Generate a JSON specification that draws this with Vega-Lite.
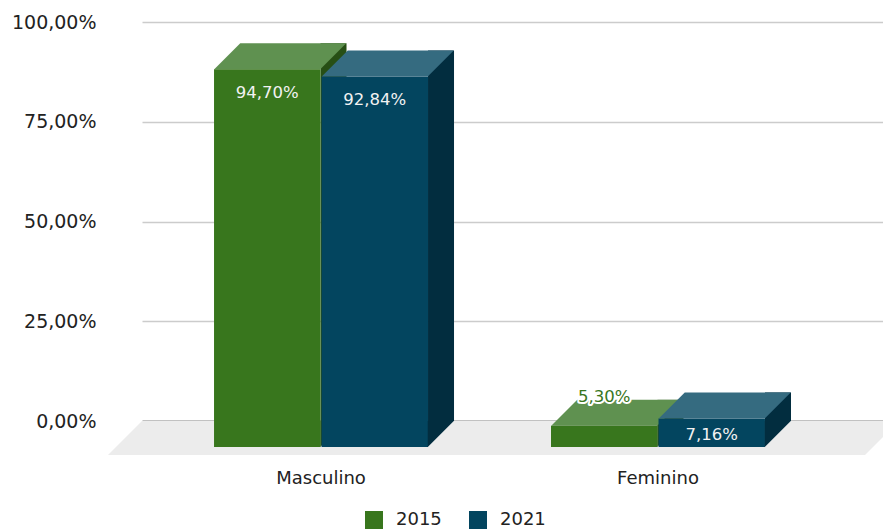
{
  "$schema": "https://vega.github.io/schema/vega-lite/v6.json",
  "width": 741,
  "height": 399,
  "autosize": "none",
  "padding": {"left": 142, "top": 22, "right": 0, "bottom": 108},
  "config": {
    "view": {"stroke": null},
    "font": "DejaVu Sans",
    "locale": {"number": {"decimal": ",", "thousands": ".", "grouping": [3], "currency": ["", ""]}}
  },
  "data": {"values": [
    {"sexo": "Masculino", "ano": "2015", "valor": 0.947},
    {"sexo": "Masculino", "ano": "2021", "valor": 0.9284},
    {"sexo": "Feminino", "ano": "2015", "valor": 0.053},
    {"sexo": "Feminino", "ano": "2021", "valor": 0.0716}
  ]},
  "encoding": {
    "x": {"field": "sexo", "type": "nominal", "sort": ["Masculino", "Feminino"],
      "scale": {"paddingInner": 0.365, "paddingOuter": 0.282, "align": 0.379},
      "axis": {"title": null, "domain": true, "domainColor": "#333333", "domainWidth": 1.5, "ticks": false, "grid": false,
        "labelPadding": 48, "labelFontSize": 18, "labelColor": "#222222", "labelAngle": 0, "labelBaseline": "top", "labelFont": "DejaVu Sans"}},
    "y": {"field": "valor", "type": "quantitative", "scale": {"domain": [0, 1]},
      "axis": {"title": null, "format": ".2%", "values": [0, 0.25, 0.5, 0.75, 1], "domain": false, "ticks": false,
        "labelPadding": 46, "labelFontSize": 19, "labelColor": "#222222", "labelFont": "DejaVu Sans",
        "gridColor": "#cccccc", "gridWidth": 1.3}}
  },
  "layer": [
    {"transform": [{"filter": "datum.sexo === 'Masculino' && datum.ano === '2015'"}],
      "mark": {"type": "point", "shape": "M-179,0L578,0L544,34L-213,34Z", "size": 4, "filled": true, "opacity": 1, "strokeWidth": 0, "color": "#ececec"},
      "encoding": {"y": {"datum": 0}}},
    {"transform": [{"filter": "datum.ano === '2015'"}],
      "mark": {"type": "bar", "color": "#274f15", "width": 26, "xOffset": 12.5}},
    {"transform": [{"filter": "datum.ano === '2015'"}],
      "mark": {"type": "point", "shape": "M53,0L53,-26L79,-26Z", "size": 4, "filled": true, "opacity": 1, "strokeWidth": 0, "color": "#274f15", "yOffset": 26},
      "encoding": {"xOffset": {"field": "ano", "type": "nominal", "scale": {"paddingInner": 0.01, "paddingOuter": 0}}, "y": {"datum": 0}}},
    {"transform": [{"filter": "datum.ano === '2015'"}],
      "mark": {"type": "point", "shape": "M-53,0L53,0L79,-26L-27,-26Z", "size": 4, "filled": true, "opacity": 1, "strokeWidth": 0, "color": "#5f9150", "yOffset": 26},
      "encoding": {"xOffset": {"field": "ano", "type": "nominal", "scale": {"paddingInner": 0.01, "paddingOuter": 0}}}},
    {"mark": {"type": "bar", "yOffset": 26, "y2Offset": 26},
      "encoding": {"xOffset": {"field": "ano", "type": "nominal", "scale": {"paddingInner": 0.01, "paddingOuter": 0}},
        "color": {"field": "ano", "type": "nominal",
        "scale": {"domain": ["2015", "2021"], "range": ["#38761d", "#03455f"]},
        "legend": {"orient": "none", "legendX": 223, "legendY": 489, "direction": "horizontal", "title": null,
          "symbolType": "square", "symbolSize": 324, "symbolStrokeWidth": 0, "symbolOpacity": 1,
          "labelFontSize": 18, "labelFont": "DejaVu Sans", "labelColor": "#222222", "labelOffset": 13, "columnPadding": 27}}}},
    {"transform": [{"filter": "datum.ano === '2021'"}],
      "mark": {"type": "bar", "color": "#022d3f", "width": 26, "xOffset": 120}},
    {"transform": [{"filter": "datum.ano === '2021'"}],
      "mark": {"type": "point", "shape": "M53,0L53,-26L79,-26Z", "size": 4, "filled": true, "opacity": 1, "strokeWidth": 0, "color": "#022d3f", "yOffset": 26},
      "encoding": {"xOffset": {"field": "ano", "type": "nominal", "scale": {"paddingInner": 0.01, "paddingOuter": 0}}, "y": {"datum": 0}}},
    {"transform": [{"filter": "datum.ano === '2021'"}],
      "mark": {"type": "point", "shape": "M-53,0L53,0L79,-26L-27,-26Z", "size": 4, "filled": true, "opacity": 1, "strokeWidth": 0, "color": "#356b80", "yOffset": 26},
      "encoding": {"xOffset": {"field": "ano", "type": "nominal", "scale": {"paddingInner": 0.01, "paddingOuter": 0}}}},
    {"transform": [{"filter": "datum.valor > 0.5"}],
      "mark": {"type": "text", "color": "#f2f2f2", "fontSize": 16.5, "font": "DejaVu Sans", "baseline": "middle", "yOffset": 49.5},
      "encoding": {"xOffset": {"field": "ano", "type": "nominal", "scale": {"paddingInner": 0.01, "paddingOuter": 0}},
        "text": {"field": "valor", "type": "quantitative", "format": ".2%"}}},
    {"transform": [{"filter": "datum.valor > 0.06 && datum.valor <= 0.5"}],
      "mark": {"type": "text", "color": "#f2f2f2", "fontSize": 16.5, "font": "DejaVu Sans", "baseline": "middle", "yOffset": 42.5},
      "encoding": {"xOffset": {"field": "ano", "type": "nominal", "scale": {"paddingInner": 0.01, "paddingOuter": 0}},
        "text": {"field": "valor", "type": "quantitative", "format": ".2%"}}},
    {"transform": [{"filter": "datum.valor <= 0.06"}],
      "mark": {"type": "text", "color": "#ffffff", "stroke": "#ffffff", "strokeWidth": 4, "strokeJoin": "round", "fontSize": 16.5, "font": "DejaVu Sans", "baseline": "middle", "yOffset": -3},
      "encoding": {"xOffset": {"field": "ano", "type": "nominal", "scale": {"paddingInner": 0.01, "paddingOuter": 0}},
        "text": {"field": "valor", "type": "quantitative", "format": ".2%"}}},
    {"transform": [{"filter": "datum.valor <= 0.06"}],
      "mark": {"type": "text", "color": "#38761d", "fontSize": 16.5, "font": "DejaVu Sans", "baseline": "middle", "yOffset": -3},
      "encoding": {"xOffset": {"field": "ano", "type": "nominal", "scale": {"paddingInner": 0.01, "paddingOuter": 0}},
        "text": {"field": "valor", "type": "quantitative", "format": ".2%"}}}
  ]
}
